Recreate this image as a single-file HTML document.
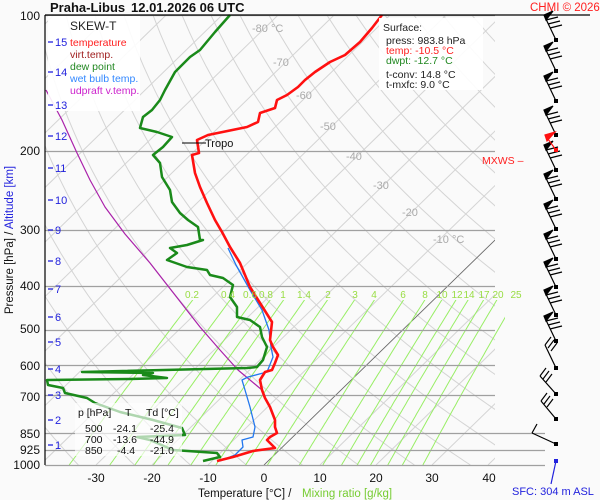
<!DOCTYPE html>
<html><head><meta charset="utf-8"><style>
body{margin:0;background:#fafafa;}
svg{display:block;font-family:"Liberation Sans",sans-serif;}
</style></head><body>
<svg id="s" width="600" height="500" viewBox="0 0 600 500" xmlns="http://www.w3.org/2000/svg">
<rect width="600" height="500" fill="#fafafa"/>
<defs>
<clipPath id="pc"><rect x="45" y="15" width="450" height="450"/></clipPath>
<clipPath id="mc"><rect x="45" y="300" width="460" height="165"/></clipPath>
</defs>
<g id="grid" clip-path="url(#pc)"></g>
<g id="mix" clip-path="url(#mc)"></g>
<g id="isob"></g>
<g id="data"></g>
<line x1="45" y1="15" x2="590" y2="15" stroke="#000" stroke-width="1.2"/>
<line x1="45" y1="15" x2="45" y2="465" stroke="#000" stroke-width="1.2"/>
<g fill="#aaa" font-size="11">
<text x="252" y="32">-80 °C</text><text x="273" y="66">-70</text><text x="296" y="99">-60</text>
<text x="320" y="130">-50</text><text x="346" y="160">-40</text><text x="373" y="189">-30</text>
<text x="402" y="216">-20</text><text x="433" y="243">-10 °C</text>
</g>
<g fill="#99dd44" font-size="10" text-anchor="middle" id="mixlab"></g>
<rect x="48" y="16" width="92" height="95" fill="#fff" opacity="0.9"/>
<text x="70" y="30" font-size="12" fill="#222">SKEW-T</text>
<g font-size="10.5">
<text x="70" y="46" fill="#ff2020">temperature</text>
<text x="70" y="58" fill="#a02020">virt.temp.</text>
<text x="70" y="70" fill="#228822">dew point</text>
<text x="70" y="82" fill="#3388ff">wet bulb temp.</text>
<text x="70" y="94" fill="#cc22cc">udpraft v.temp.</text>
</g>
<rect x="379" y="18" width="104" height="72" fill="#fff" opacity="0.9"/>
<g font-size="10.5">
<text x="383" y="31" fill="#222">Surface:</text>
<text x="386" y="44" fill="#222">press: 983.8 hPa</text>
<text x="386" y="54" fill="#ff2020">temp: -10.5 °C</text>
<text x="386" y="64" fill="#228822">dwpt: -12.7 °C</text>
<text x="386" y="78" fill="#222">t-conv: 14.8 °C</text>
<text x="386" y="88" fill="#222">t-mxfc: 9.0 °C</text>
</g>
<text x="530" y="11" font-size="11.5" fill="#ff2020">CHMI © 2026</text>
<text x="50" y="12" font-size="13" font-weight="bold" fill="#111">Praha-Libus</text>
<text x="131" y="12" font-size="13" font-weight="bold" fill="#111">12.01.2026 06 UTC</text>
<text x="482" y="164" font-size="10.5" fill="#ff2020">MXWS –</text>
<line x1="182" y1="143" x2="206" y2="143" stroke="#000"/>
<text x="205" y="147" font-size="11" fill="#111">Tropo</text>
<g font-size="12" text-anchor="end" fill="#111">
<text x="40" y="20">100</text><text x="40" y="155">200</text><text x="40" y="234">300</text>
<text x="40" y="290">400</text><text x="40" y="333">500</text><text x="40" y="370">600</text>
<text x="40" y="401">700</text><text x="40" y="438">850</text><text x="40" y="454">925</text>
<text x="40" y="469">1000</text>
</g>
<g id="km" font-size="11" fill="#2222dd"></g>
<text transform="translate(13,240) rotate(-90)" font-size="11.5" text-anchor="middle"><tspan fill="#111">Pressure [hPa]  /  </tspan><tspan fill="#2222dd">Altitude [km]</tspan></text>
<g font-size="12" text-anchor="middle" fill="#111">
<text x="96" y="482">-30</text><text x="152" y="482">-20</text><text x="208" y="482">-10</text>
<text x="264" y="482">0</text><text x="320" y="482">10</text><text x="376" y="482">20</text>
<text x="432" y="482">30</text><text x="489" y="482">40</text>
</g>
<text x="198" y="497" font-size="11.5" fill="#111">Temperature [°C]  /</text>
<text x="302" y="497" font-size="11.5" fill="#77cc33">Mixing ratio [g/kg]</text>
<text x="512" y="495" font-size="11" fill="#2222dd">SFC: 304 m ASL</text>
<rect x="75" y="403" width="107" height="53" fill="#fff" opacity="0.65"/>
<g font-size="10.5" fill="#111">
<text x="78" y="416">p [hPa]</text><text x="125" y="416">T</text><text x="146" y="416">Td [°C]</text>
<text x="85" y="432">500</text><text x="113" y="432">-24.1</text><text x="150" y="432">-25.4</text>
<text x="85" y="443">700</text><text x="113" y="443">-13.6</text><text x="150" y="443">-44.9</text>
<text x="85" y="454">850</text><text x="117" y="454">-4.4</text><text x="150" y="454">-21.0</text>
</g>
<g id="wind" stroke="#000" stroke-width="1.2" fill="none"></g>
</svg>
<script>
const NS="http://www.w3.org/2000/svg";
function el(p,t,a){const e=document.createElementNS(NS,t);for(const k in a)e.setAttribute(k,a[k]);document.getElementById(p).appendChild(e);return e;}
function Y(p){return 465-195.4*Math.log(1000/p);}
function X(T,y){return 264+5.6*T+1.027*(465-y);}
for(let T=-150;T<=50;T+=10){const y1=465,y2=15;el('grid','line',{x1:X(T,y1),y1:y1,x2:X(T,y2),y2:y2,stroke:'#d4d4d4','stroke-width':1});}
for(let th=220;th<=500;th+=10){let pts=[];for(let p=1000;p>=100;p-=10){const T=th*Math.pow(p/1000,0.286)-273.15;const y=Y(p);pts.push(X(T,y).toFixed(1)+','+y.toFixed(1));}
el('grid','polyline',{points:pts.join(' '),stroke:'#d4d4d4','stroke-width':1,fill:'none'});}
el('grid','line',{x1:X(0,465),y1:465,x2:X(0,240),y2:240,stroke:'#666','stroke-width':0.8});
const ws=[0.2,0.4,0.6,0.8,1,1.4,2,3,4,6,8,10,12,14,17,20,25];
const wl={0.2:192,0.4:228,0.6:250,0.8:266,1:283,1.4:304,2:328,3:355,4:374,6:403,8:425,10:442,12:457,14:469,17:484,20:498,25:516};
function Td(w,p){const e=w*p/(622+w);const l=Math.log(e/6.112);return 243.5*l/(17.67-l);}
for(const w of ws){let pts=[];for(let p=1000;p>=420;p-=10){const y=Y(p);pts.push(X(Td(w,p),y).toFixed(1)+','+y.toFixed(1));}
el('mix','polyline',{points:pts.join(' '),stroke:'#99ee66','stroke-width':1,fill:'none'});
const t=el('mixlab','text',{x:wl[w],y:298});t.textContent=String(w);}
[[100,495],[200,495],[300,495],[400,495],[500,495],[600,495],[700,495],[850,545],[925,545],[1000,545]].forEach(a=>{const y=Math.round(Y(a[0]))+0.5;el('isob','line',{x1:45,y1:y,x2:a[1],y2:y,stroke:'#a0a0a0','stroke-width':1.2});});
[[15,42],[14,72],[13,105],[12,136],[11,168],[10,200],[9,230],[8,261],[7,289],[6,317],[5,342],[4,369],[3,395],[2,420],[1,445]].forEach(k=>{el('km','line',{x1:48,y1:k[1],x2:53,y2:k[1],stroke:'#2222dd','stroke-width':1.3});const t=el('km','text',{x:55,y:k[1]+4});t.textContent=k[0];});
function line(pts,c,w){el('data','polyline',{points:pts.map(p=>p.join(',')).join(' '),stroke:c,'stroke-width':w,fill:'none','stroke-linejoin':'round'});}
line([[46,90],[62,120],[77,153],[90,180],[105,207],[125,234],[150,263],[175,295],[200,327],[220,350],[238,370],[250,380],[262,390]],'#aa22aa',1.2);
const dp=[[230,15],[215,32],[200,50],[190,57],[175,72],[165,90],[160,100],[152,110],[143,117],[140,128],[157,132],[172,137],[163,147],[153,155],[160,163],[162,177],[170,190],[172,202],[180,213],[188,220],[198,227],[200,240],[203,240],[187,245],[170,248],[177,253],[167,260],[187,267],[207,270],[210,275],[223,278],[233,285],[230,297],[237,307],[237,317],[250,320],[260,327],[262,337],[267,347],[263,360],[257,367],[247,368],[82,372],[153,373],[143,375],[167,378],[130,379],[47,380],[48,385],[63,388],[65,393],[87,398],[95,403],[120,412],[153,420],[182,428],[185,435],[137,437],[150,440],[173,450],[217,453],[220,457],[203,461]];
line(dp,'#1a8a1a',2.5);
line([[220,461],[235,455],[243,447],[242,440],[253,437],[255,427],[250,407],[245,390],[242,380],[248,377],[267,372],[273,357],[271,347],[269,330],[262,310],[250,290],[236,265],[228,248]],'#2277ee',1.3);
const tp=[[382,15],[372,28],[360,42],[345,55],[330,62],[315,72],[305,80],[298,87],[287,95],[277,100],[275,108],[260,113],[258,122],[247,127],[208,135],[197,140],[199,153],[192,155],[195,173],[200,187],[207,203],[215,220],[222,232],[230,247],[240,263],[250,287],[260,303],[272,322],[270,340],[273,347],[278,355],[275,363],[272,370],[265,372],[260,380],[262,390],[265,398],[270,407],[275,420],[275,427],[277,433],[270,437],[267,440],[275,448],[253,451],[233,457],[217,461]];
line(tp,'#ff1010',2.6);
const dots=[40,71,101,135,170,199,229,259,287,315,341];
dots.forEach((y,i)=>{const x=556;const tx=544,ty=y-25;
el('wind','line',{x1:x,y1:y,x2:tx,y2:ty});
el('wind','polygon',{points:`${tx},${ty} ${tx+9},${ty-4} ${tx+2},${ty+5}`,fill:'#000'});
for(let b=0;b<3;b++){const by=ty+5+b*4,bx=tx+2+b*2;el('wind','line',{x1:bx,y1:by,x2:bx+12,y2:by-3});}
el('wind','rect',{x:x-2,y:y-2,width:4,height:4,fill:'#000',stroke:'none'});});
el('wind','line',{x1:556,y1:150,x2:545,y2:135,stroke:'#ff1010'});
el('wind','polygon',{points:'545,135 555,132 547,141',fill:'#ff1010',stroke:'#ff1010'});
el('wind','rect',{x:554,y:148,width:4,height:4,fill:'#ff1010',stroke:'none'});
[[368,545,345],[394,540,376],[419,541,401]].forEach(a=>{el('wind','line',{x1:556,y1:a[0],x2:a[1],y2:a[2]});
for(let b=0;b<3;b++){el('wind','line',{x1:a[1]+b*3,y1:a[2]+b*3,x2:a[1]+b*3+6,y2:a[2]+b*3-8});}
el('wind','rect',{x:554,y:a[0]-2,width:4,height:4,fill:'#000',stroke:'none'});});
el('wind','line',{x1:556,y1:444,x2:532,y2:433});el('wind','line',{x1:532,y1:433,x2:537,y2:424});
el('wind','rect',{x:554,y:442,width:4,height:4,fill:'#000',stroke:'none'});
el('wind','line',{x1:556,y1:461,x2:551,y2:484,stroke:'#2222dd'});
el('wind','rect',{x:554,y:459,width:4,height:4,fill:'#2222dd',stroke:'none'});
</script>
</body></html>
